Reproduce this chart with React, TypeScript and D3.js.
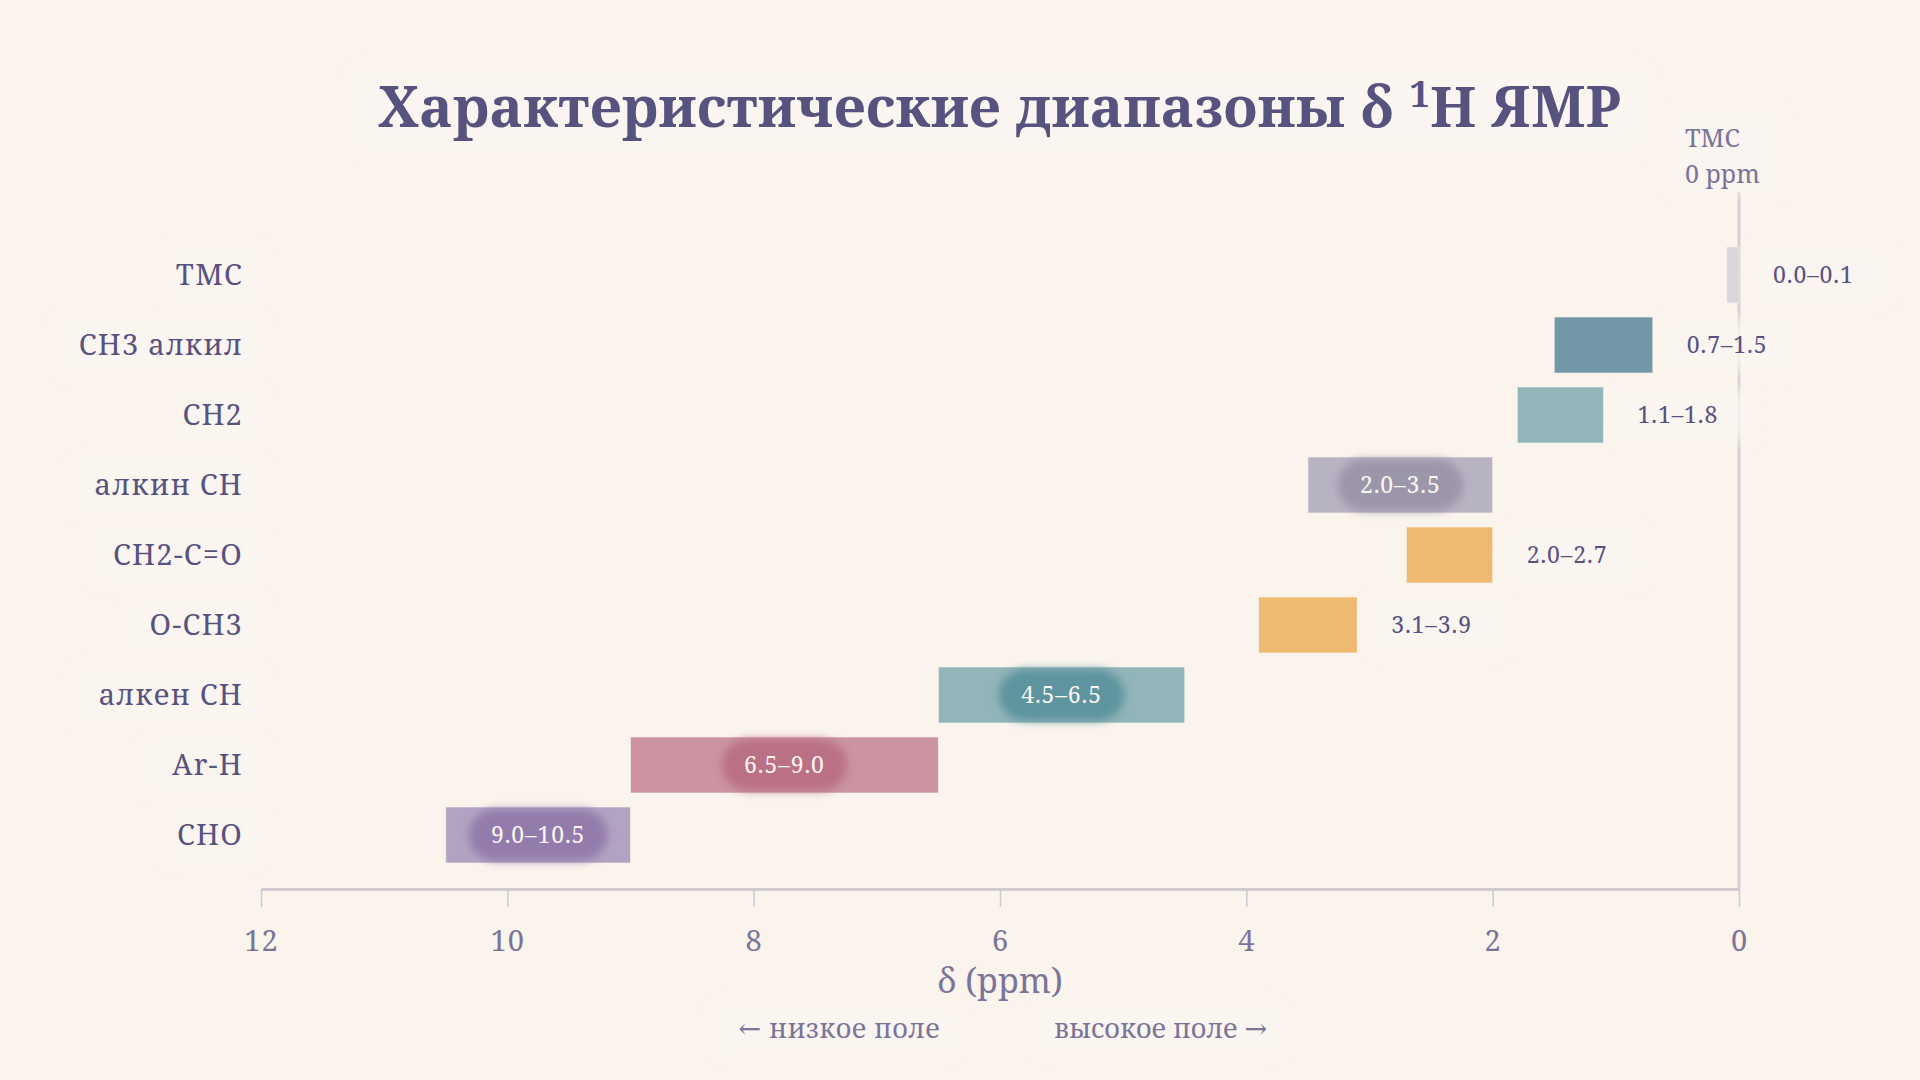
import React, { useEffect, useRef } from "react";
import * as d3 from "d3";

// shift ranges (ppm)
const groups = ["ТМС", "CH3 алкил", "CH2", "алкин CH", "CH2-C=O", "O-CH3", "алкен CH", "Ar-H", "CHO"];
const lowPpm = [0.0, 0.7, 1.1, 2.0, 2.0, 3.1, 4.5, 6.5, 9.0];
const highPpm = [0.1, 1.5, 1.8, 3.5, 2.7, 3.9, 6.5, 9.0, 10.5];
const rangeLabels = ["0.0–0.1", "0.7–1.5", "1.1–1.8", "2.0–3.5", "2.0–2.7", "3.1–3.9", "4.5–6.5", "6.5–9.0", "9.0–10.5"];
const xTicks = [12, 10, 8, 6, 4, 2, 0];

const barColor: Record<string, string> = {
	"ТМС": "#dad6d9",
	"CH3 алкил": "#7298a8",
	"CH2": "#92b5b9",
	"алкин CH": "#b8b3c2",
	"CH2-C=O": "#eeba72",
	"O-CH3": "#eeba72",
	"алкен CH": "#92b5b9",
	"Ar-H": "#cb94a0",
	"CHO": "#b3a3c3",
};
const haloColor: Record<string, string> = {
	"алкин CH": "#9891a8",
	"алкен CH": "#558f9a",
	"Ar-H": "#b86a81",
	"CHO": "#8e76a8",
};

const BG = "#faf4ed";
const INK = "#57527e";
const MUTED = "#7a7498";
const FONT = "'Noto Serif', 'DejaVu Serif', serif";

const W = 1920;
const H = 1080;
const axisY = 889;

const App: React.FC = () => {
	const axisRef = useRef<SVGGElement>(null);

	const x = d3.scaleLinear().domain([12, 0]).range([261, 1739]);
	const y = d3.scaleBand().domain(groups).range([233, 877]).paddingInner(0.2).paddingOuter(0.2);

	const rows = groups.map((g, i) => ({ g, lo: lowPpm[i], hi: highPpm[i], label: rangeLabels[i] }));

	useEffect(() => {
		document.body.style.margin = "0";
		document.body.style.background = BG;
		if (!axisRef.current) return;
		const g = d3.select(axisRef.current);
		g.selectAll("*").remove();
		g.call(d3.axisBottom(x).tickValues(xTicks).tickSize(18).tickSizeOuter(0).tickPadding(23).tickFormat(d3.format("d")));
		g.select(".domain").attr("stroke", "#d0cbd2").attr("stroke-width", 3);
		g.selectAll(".tick line").attr("stroke", "#cdc9d0").attr("stroke-width", 1.5);
		g.selectAll(".tick text")
			.attr("fill", MUTED)
			.style("font-family", FONT)
			.style("font-size", "29px")
			.style("letter-spacing", "1px");
	}, []);

	// soft page-coloured patch behind texts
	const halo = (cx: number, cy: number, w: number, h: number, key: string) => (
		<rect key={key} x={cx - w / 2} y={cy - h / 2} width={w} height={h} rx={10} fill="#fbf6f1" opacity={0.8} filter="url(#soft)" />
	);

	return (
		<svg width={W} height={H} style={{ display: "block", background: BG }}>
			<defs>
				<filter id="soft" x="-30%" y="-40%" width="160%" height="180%">
					<feGaussianBlur stdDeviation="7" />
				</filter>
				<filter id="glow" x="-30%" y="-30%" width="160%" height="160%">
					<feGaussianBlur stdDeviation="4" />
				</filter>
			</defs>
			<rect width={W} height={H} fill={BG} />

			{/* title */}
			{halo(1000, 110, 1290, 80, "title-halo")}
			<text x={1000} y={127} textAnchor="middle" fill={INK} fontFamily={FONT} fontSize={56} fontWeight="bold" letterSpacing={0.4}>
				Характеристические диапазоны δ <tspan dy={-20} fontSize={36}>1</tspan>
				<tspan dy={20}>H ЯМР</tspan>
			</text>

			{/* TMS reference line at 0 ppm */}
			<line x1={x(0)} x2={x(0)} y1={192} y2={axisY} stroke="#d4d0d7" strokeWidth={3} />
			{halo(x(0) - 12, 152, 110, 80, "tms-halo")}
			<text x={1685} y={147} fill={MUTED} fontFamily={FONT} fontSize={25}>ТМС</text>
			<text x={1685} y={183} fill={MUTED} fontFamily={FONT} fontSize={25}>0 ppm</text>

			{/* bars */}
			{rows.map((r) => {
				const x0 = x(r.hi);
				const x1 = x(r.lo);
				const yy = y(r.g) || 0;
				return (
					<rect
						key={r.g}
						x={x0}
						y={yy}
						width={x1 - x0}
						height={y.bandwidth()}
						fill={barColor[r.g]}
						stroke="#fbf4ef"
						strokeOpacity={0.6}
						strokeWidth={1}
					/>
				);
			})}

			{/* value labels */}
			{rows.map((r) => {
				const cy = (y(r.g) || 0) + y.bandwidth() / 2;
				const inside = r.hi - r.lo >= 1.5;
				const tw = r.label.length * 13.4;
				if (inside) {
					const cx = (x(r.hi) + x(r.lo)) / 2;
					return (
						<g key={r.g + "-lab"}>
							<rect
								x={cx - tw / 2 - 16}
								y={cy - y.bandwidth() / 2 + 2}
								width={tw + 32}
								height={y.bandwidth() - 4}
								rx={28}
								fill={haloColor[r.g]}
								opacity={0.85}
								filter="url(#glow)"
							/>
							<text x={cx} y={cy + 8} textAnchor="middle" fill="#fbf6f2" fontFamily={FONT} fontSize={23} letterSpacing={0.9}>
								{r.label}
							</text>
						</g>
					);
				}
				const lx = x(r.lo) + 34;
				return (
					<g key={r.g + "-lab"}>
						{halo(lx + tw / 2, cy, tw + 40, 52, r.g + "-h")}
						<text x={lx} y={cy + 8} fill={INK} fontFamily={FONT} fontSize={23} letterSpacing={0.9}>
							{r.label}
						</text>
					</g>
				);
			})}

			{/* row labels */}
			{rows.map((r) => {
				const cy = (y(r.g) || 0) + y.bandwidth() / 2;
				return (
					<g key={r.g + "-row"}>
						{halo(241 - r.g.length * 9, cy, r.g.length * 18 + 40, 52, r.g + "-rh")}
						<text x={243} y={cy + 10} textAnchor="end" fill={INK} fontFamily={FONT} fontSize={29} letterSpacing={1.2}>
							{r.g}
						</text>
					</g>
				);
			})}

			{/* x axis */}
			<g ref={axisRef} transform={`translate(0,${axisY})`} />

			{/* axis title and direction hints */}
			<text x={1000} y={993} textAnchor="middle" fill={MUTED} fontFamily={FONT} fontSize={34}>
				δ (ppm)
			</text>
			{halo(835, 1029, 240, 46, "low-h")}
			{halo(1160, 1029, 240, 46, "high-h")}
			<text x={940} y={1038} textAnchor="end" fill={MUTED} fontFamily={FONT} fontSize={27} letterSpacing={0.4}>
				← низкое поле
			</text>
			<text x={1054} y={1038} textAnchor="start" fill={MUTED} fontFamily={FONT} fontSize={27}>
				высокое поле →
			</text>
		</svg>
	);
};

export default App;
